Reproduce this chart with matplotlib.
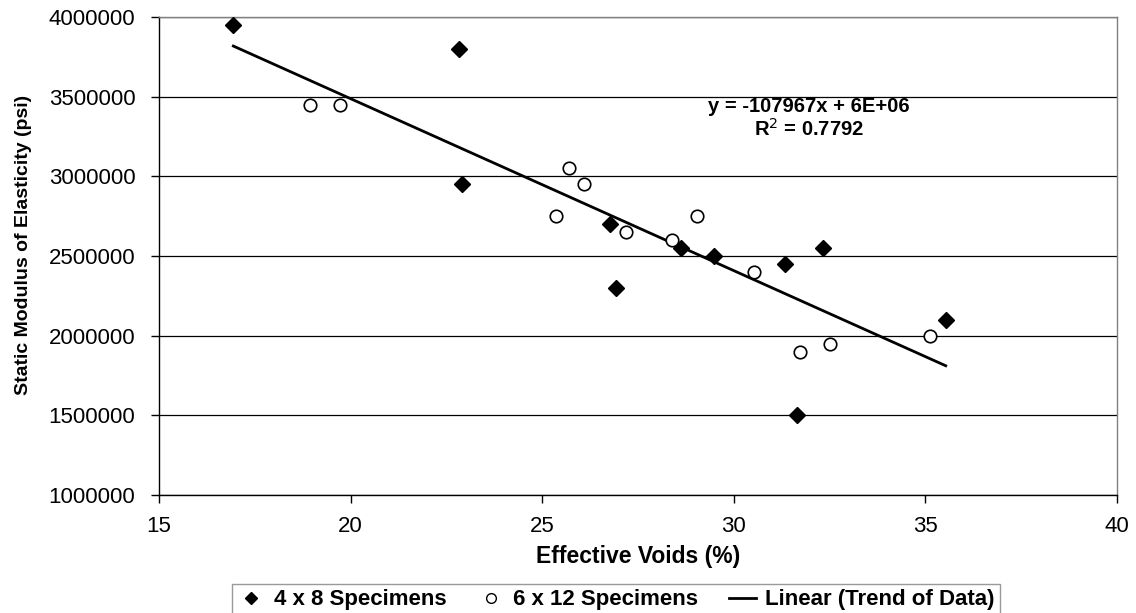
import numpy as np
import matplotlib
matplotlib.use('Agg')
import matplotlib.pyplot as plt
from matplotlib.lines import Line2D

plt.rcParams['font.family'] = ['Liberation Sans', 'DejaVu Sans']

# Datos
voids_4x8 = [16.94, 22.84, 22.92, 26.76, 26.92, 28.63, 29.48, 31.34, 31.66, 32.33, 35.53]
modulus_4x8 = [3950000, 3800000, 2950000, 2700000, 2300000, 2550000, 2500000,
               2450000, 1500000, 2550000, 2100000]

voids_6x12 = [18.95, 19.73, 25.36, 25.69, 26.10, 27.19, 28.39, 29.03, 30.52, 31.74, 32.51, 35.11]
modulus_6x12 = [3450000, 3450000, 2750000, 3050000, 2950000, 2650000, 2600000,
                2750000, 2400000, 1900000, 1950000, 2000000]

eq_text = 'y = -107967x + 6E+06'
r2_text = 'R$^2$ = 0.7792'

# Ajuste lineal sobre todos los datos
all_x = np.array(voids_4x8 + voids_6x12)
all_y = np.array(modulus_4x8 + modulus_6x12)
slope, intercept = np.polyfit(all_x, all_y, 1)
x_fit = np.array([all_x.min(), all_x.max()])
y_fit = slope * x_fit + intercept

fig = plt.figure(figsize=(11.36, 6.13), dpi=100)
ax = fig.add_axes([159 / 1136, 1 - 495 / 613, (1117 - 159) / 1136, (495 - 17) / 613])

ax.plot(x_fit, y_fit, color='black', lw=2.0, zorder=2)
ax.plot(voids_4x8, modulus_4x8, 'D', color='black', markersize=8, zorder=3)
ax.plot(voids_6x12, modulus_6x12, 'o', markerfacecolor='white', markeredgecolor='black',
        markeredgewidth=1.2, markersize=9, zorder=3)

ax.set_xlim(15, 40)
ax.set_ylim(1000000, 4000000)
ax.set_xticks(range(15, 41, 5))
ax.set_yticks(range(1000000, 4000001, 500000))
ax.set_yticklabels([str(v) for v in range(1000000, 4000001, 500000)])
ax.grid(axis='y', color='black', lw=0.9)
ax.set_axisbelow(True)

for s in ['top', 'right']:
    ax.spines[s].set_color('#808080')
    ax.spines[s].set_linewidth(1.0)
for s in ['left', 'bottom']:
    ax.spines[s].set_color('black')
    ax.spines[s].set_linewidth(1.0)

ax.tick_params(axis='both', direction='out', length=6, width=1, labelsize=16, colors='black')
ax.tick_params(axis='y', pad=11)
ax.tick_params(axis='x', pad=9)

ax.set_xlabel('Effective Voids (%)', fontsize=16.5, fontweight='bold', labelpad=6)
ax.set_ylabel('Static Modulus of Elasticity (psi)', fontsize=14, fontweight='bold')
ax.yaxis.set_label_coords(-127 / 958, 0.523)

ax.text(31.95, 3440000, eq_text, ha='center', va='center', fontsize=14.5, fontweight='bold')
ax.text(31.95, 3300000, r2_text, ha='center', va='center', fontsize=14.5, fontweight='bold')

handles = [
    Line2D([], [], marker='D', color='black', ls='none', markersize=6),
    Line2D([], [], marker='o', markerfacecolor='white', markeredgecolor='black', ls='none', markersize=7),
    Line2D([], [], color='black', lw=2.0),
]
labels = ['4 x 8 Specimens', '6 x 12 Specimens', 'Linear (Trend of Data)']
leg = fig.legend(handles, labels, loc='center', bbox_to_anchor=(616 / 1136, 1 - 600 / 613),
                 ncol=3, frameon=True, fancybox=False, edgecolor='#808080',
                 prop={'size': 16, 'weight': 'bold'}, handlelength=1.2, handletextpad=0.4,
                 columnspacing=1.4, borderpad=0.25)
leg.get_frame().set_linewidth(1.0)

fig.savefig('out.png', dpi=100)
